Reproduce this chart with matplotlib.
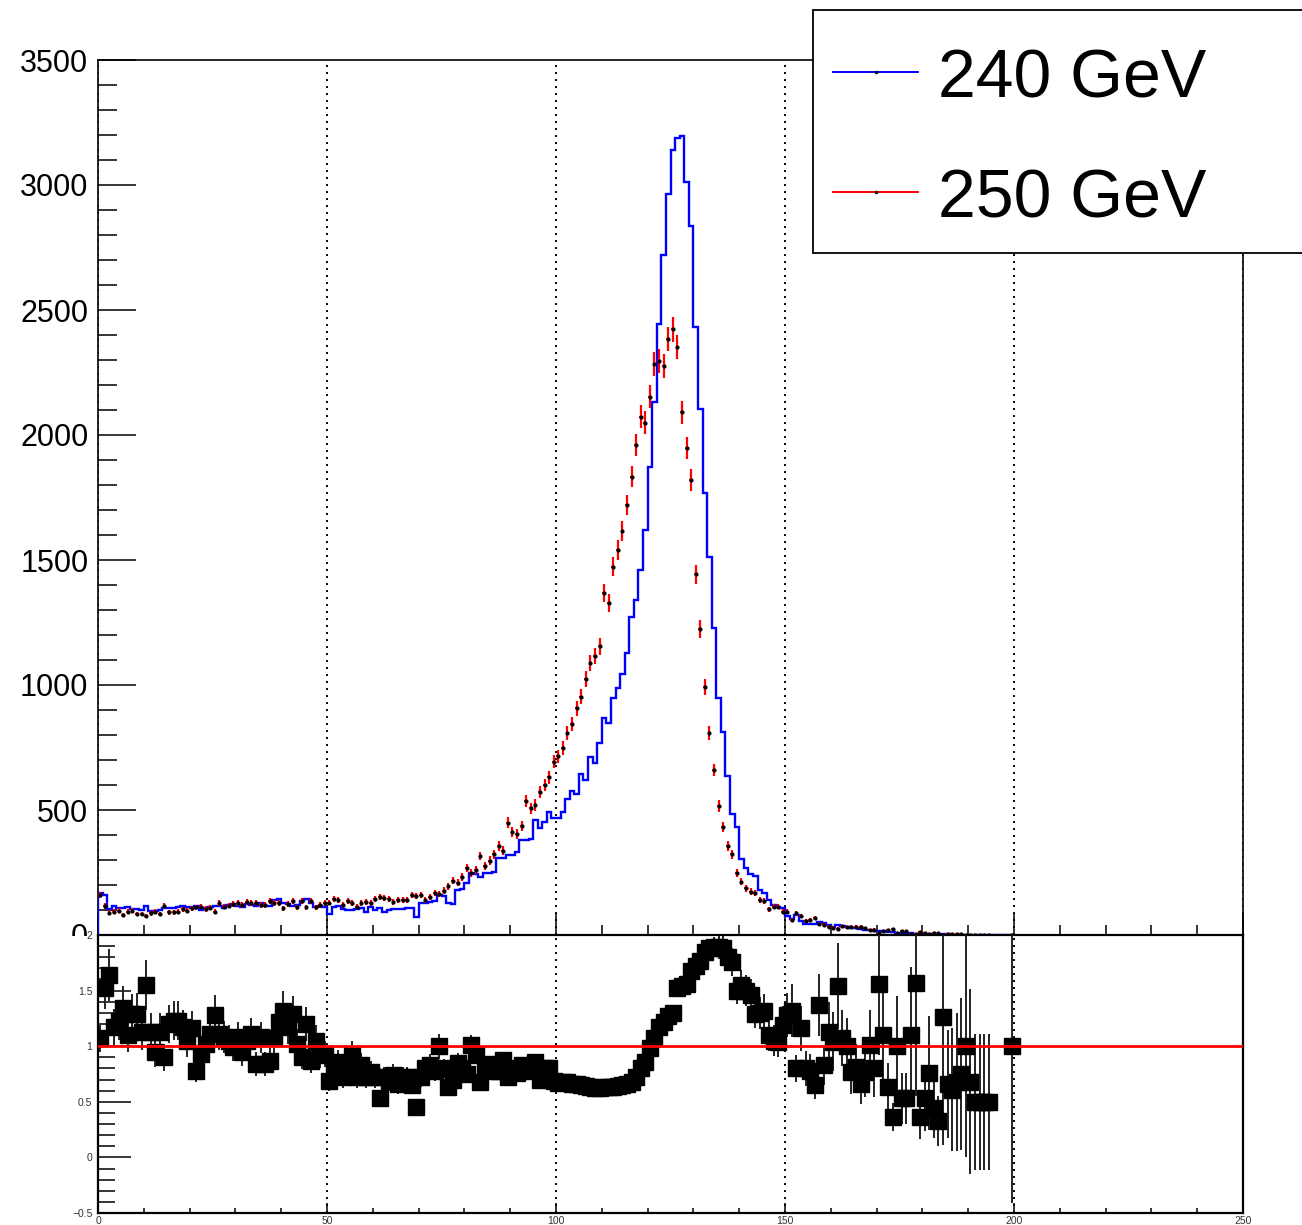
import numpy as np
import matplotlib
matplotlib.use("Agg")
import matplotlib.pyplot as plt
from matplotlib.patches import Rectangle
from matplotlib.lines import Line2D

plt.rcParams['font.family'] = ['Liberation Sans', 'DejaVu Sans']

# 1 GeV bins from 0 to 200
bin_edges = np.arange(0, 201, 1)

# 240 GeV histogram (blue line)
blue = [169, 160, 103, 115, 110, 108, 113, 104, 104, 100, 118, 95, 97, 100, 110, 110, 110, 112, 115, 112,
        110, 115, 100, 108, 112, 118, 118, 110, 120, 124, 118, 113, 124, 122, 118, 127, 115, 118, 140, 143,
        127, 125, 118, 122, 137, 143, 127, 111, 116, 113,
        84, 113, 117, 103, 100, 100, 103, 107, 93, 113, 100, 107, 93, 100, 103, 104, 104, 107, 107, 71,
        127, 127, 133, 135, 160, 157, 127, 125, 180, 183, 207, 247, 245, 233, 247, 250, 252, 307, 310, 320,
        322, 333, 380, 382, 385, 460, 427, 453, 493, 467,
        470, 493, 543, 577, 563, 644, 620, 711, 687, 767, 867, 847, 947, 987, 1043, 1129, 1273, 1340, 1460, 1620,
        1873, 2133, 2444, 2720, 2963, 3140, 3187, 3197, 3013, 2836, 2433, 2104, 1767, 1511, 1227, 947, 813, 636, 483, 433,
        305, 270, 245, 236, 180, 167, 140, 122, 113, 110,
        78, 63, 80, 57, 44, 44, 44, 53, 49, 40, 31, 40, 37, 31, 28, 27, 23, 21, 20, 18,
        15, 16, 13, 12, 10, 8, 8, 7, 6, 5, 5, 4, 4, 3, 3, 3, 2, 2, 2, 2,
        1, 1, 1, 1, 1, 1, 1, 1, 1, 1]

# 250 GeV histogram (red points with errors)
red = [160, 116, 89, 93, 97, 80, 93, 97, 84, 84, 77, 87, 93, 84, 116, 91, 91, 93, 103, 97,
       107, 111, 113, 104, 109, 93, 127, 113, 117, 123, 129, 120, 131, 127, 127, 120, 120, 136, 127, 129,
       107, 124, 137, 111, 137, 111, 137, 111, 120, 127,
       130, 143, 140, 120, 137, 129, 113, 129, 133, 129, 143, 151, 149, 143, 133, 140, 140, 140, 160, 156,
       160, 140, 153, 167, 164, 177, 196, 217, 209, 231, 267, 249, 260, 316, 276, 297, 324, 356, 337, 449,
       413, 404, 437, 537, 507, 520, 573, 600, 631, 693,
       715, 747, 807, 844, 907, 953, 1024, 1087, 1116, 1156, 1367, 1327, 1473, 1540, 1616, 1720, 1833, 1960, 2073, 2049,
       2153, 2283, 2297, 2277, 2384, 2423, 2353, 2091, 1949, 1820, 1444, 1224, 991, 807, 660, 516, 433, 356, 324, 249,
       213, 187, 173, 167, 140, 137, 103, 113, 113, 93,
       93, 60, 87, 76, 57, 62, 67, 44, 40, 33, 30, 26, 35, 31, 34, 33, 33, 27, 20, 22,
       10, 15, 21, 25, 10, 15, 15, 6, 4, 12, 9, 5, 9, 8, 2, 5, 3, 3, 3, 2,
       2, 2, 2, 2, 2, 0, 0, 0, 0, 1]

# ratio panel (240 / 250), nan where no point is drawn
ratio = [1.07, 1.52, 1.64, 1.17, 1.23, 1.34, 1.10, 1.29, 1.29, 1.13,
         1.55, 1.13, 0.95, 1.13, 0.90, 1.20, 1.23, 1.23, 1.17, 1.05,
         1.16, 0.78, 0.93, 1.02, 1.11, 1.28, 1.11, 1.08, 1.05, 0.99,
         1.08, 0.95, 1.05, 1.11, 0.84, 1.08, 0.84, 0.87, 1.07, 1.22,
         1.32, 1.17, 1.29, 1.02, 0.90, 1.20, 0.87, 1.05, 0.92, 0.93,
         0.69, 0.81, 0.86, 0.72, 0.78, 0.92, 0.72, 0.83, 0.72, 0.77,
         0.72, 0.53, 0.72, 0.69, 0.74, 0.66, 0.72, 0.72, 0.65, 0.45,
         0.72, 0.80, 0.83, 0.78, 1.00, 0.80, 0.63, 0.70, 0.85, 0.80,
         0.75, 1.01, 0.92, 0.68, 0.82, 0.84, 0.78, 0.78, 0.88, 0.72,
         0.80, 0.76, 0.83, 0.80, 0.78, 0.86, 0.70, 0.80, 0.80, 0.69,
         0.67, 0.68, 0.68, 0.66, 0.66, 0.65, 0.64, 0.63, 0.62, 0.62,
         0.63, 0.63, 0.63, 0.64, 0.65, 0.66, 0.68, 0.72, 0.80, 0.86,
         0.98, 1.07, 1.17, 1.22, 1.27, 1.30, 1.52, 1.54, 1.56, 1.68,
         1.72, 1.77, 1.85, 1.88, 1.89, 1.89, 1.88, 1.80, 1.76, 1.50,
         1.55, 1.50, 1.46, 1.29, 1.30, 1.32, 1.10, 1.05, 1.04, 1.19,
         1.28, 1.32, 0.80, 1.16, 0.80, 0.78, 0.65, 1.37, 0.83, 1.13,
         1.04, 1.54, 1.07, 1.00, 0.77, 0.81, 0.66, 0.77, 1.01, 0.80,
         1.56, 1.10, 0.63, 0.36, 1.00, 0.53, 0.53, 1.10, 1.57, 0.36,
         0.53, 0.76, 0.44, 0.33, 1.26, 0.66, 0.61, 0.68, 0.75, 1.00,
         0.68, 0.50, 0.50, 0.50, 0.50, np.nan, np.nan, np.nan, np.nan, 1.00]

legend_labels = ["240 GeV", "250 GeV"]

W, H = 1302, 1225
fig = plt.figure(figsize=(W / 100, H / 100), dpi=100)

blue_a = np.array(blue, float)
red_a = np.array(red, float)
ratio_a = np.array(ratio, float)
centers = 0.5 * (bin_edges[:-1] + bin_edges[1:])

# ---- upper pad
ax1 = fig.add_axes([98 / W, 1 - 935 / H, 1145 / W, 875 / H])
ax1.stairs(blue_a, bin_edges, color='#0000ff', lw=1.7, zorder=3)
m = red_a > 0
ax1.errorbar(centers[m], red_a[m], yerr=np.sqrt(red_a[m]), xerr=0.4, fmt='o', ms=2,
             mfc='black', mec='black', ecolor='#ff0000', elinewidth=1.6, capsize=0, zorder=4)
ax1.set_xlim(0, 250)
ax1.set_ylim(0, 3500)
ax1.set_xticks(np.arange(0, 251, 50))
ax1.set_xticks(np.arange(0, 251, 10), minor=True)
ax1.set_xticklabels([])
ax1.set_yticks(np.arange(0, 3501, 500))
ax1.set_yticks(np.arange(0, 3501, 100), minor=True)
ax1.tick_params(axis='y', which='major', direction='in', length=27, width=1.1, labelsize=22, pad=7)
ax1.tick_params(axis='y', which='minor', direction='in', length=13.5, width=1.1)
ax1.tick_params(axis='x', which='major', direction='in', length=16, width=1.1)
ax1.tick_params(axis='x', which='minor', direction='in', length=7.5, width=1.1)
ax1.grid(axis='x', which='major', color='black', ls=(0, (1, 2.6)), lw=1.4)
for s in ax1.spines.values():
    s.set_linewidth(1.2)

# white strip that hides the lower half of the "0" label, as in the pad split
fig.patches.append(Rectangle((0, 1 - 965 / H), 97 / W, 29 / H, transform=fig.transFigure,
                             facecolor='white', edgecolor='none', zorder=1))

# ---- lower pad
ax2 = fig.add_axes([98 / W, 1 - 1213 / H, 1145 / W, 278 / H])
ax2.set_zorder(2)
ok = ~np.isnan(ratio_a) & (blue_a > 0) & (red_a > 0)
rerr = np.zeros_like(ratio_a)
rerr[ok] = ratio_a[ok] * np.sqrt(1 / blue_a[ok] + 1 / red_a[ok])
ax2.errorbar(centers[ok], ratio_a[ok], yerr=rerr[ok], fmt='s', ms=11.5, mfc='black', mec='black',
             ecolor='#222222', elinewidth=1.4, capsize=0, zorder=3)
ax2.axhline(1, color='#ff0000', lw=2, zorder=4)
ax2.set_xlim(0, 250)
ax2.set_ylim(-0.5, 2)
ax2.set_xticks(np.arange(0, 251, 50))
ax2.set_xticks(np.arange(0, 251, 10), minor=True)
ax2.set_xticklabels(['0', '50', '100', '150', '200', '250'])
ax2.set_yticks(np.arange(-0.5, 2.01, 0.5))
ax2.set_yticks(np.arange(-0.5, 2.01, 0.1), minor=True)
ax2.set_yticklabels(['\u22120.5', '0', '0.5', '1', '1.5', '2'])
ax2.tick_params(axis='y', which='major', direction='in', length=24, width=1.1, labelsize=7.5,
                pad=4, labelcolor='#333333')
ax2.tick_params(axis='y', which='minor', direction='in', length=12, width=1.1)
ax2.tick_params(axis='x', which='major', direction='in', length=7, width=1.1, labelsize=7.5,
                pad=2, labelcolor='#333333')
ax2.tick_params(axis='x', which='minor', direction='in', length=3.5, width=1.1)
ax2.grid(axis='x', which='major', color='black', ls=(0, (1, 2.6)), lw=1.4)
for s in ax2.spines.values():
    s.set_linewidth(1.6)

# ---- legend box (runs off the right edge, as in the original)
fig.patches.append(Rectangle((813 / W, 1 - 253 / H), 0.6, 243 / H, transform=fig.transFigure,
                             facecolor='white', edgecolor='black', lw=1.3, zorder=5))
for ypix, col, lab in [(72, '#0000ff', legend_labels[0]), (192, '#ff0000', legend_labels[1])]:
    yf = 1 - ypix / H
    fig.lines.append(Line2D([833 / W, 918 / W], [yf, yf], transform=fig.transFigure,
                            color=col, lw=1.4, zorder=6))
    fig.lines.append(Line2D([876 / W], [yf], transform=fig.transFigure, marker='o', ms=1.5,
                            color='black', zorder=7))
    fig.text(938 / W, 1 - (ypix + 26) / H, lab, fontsize=49, va='baseline', ha='left', zorder=7)

fig.savefig("out.png", dpi=100, facecolor='white')
